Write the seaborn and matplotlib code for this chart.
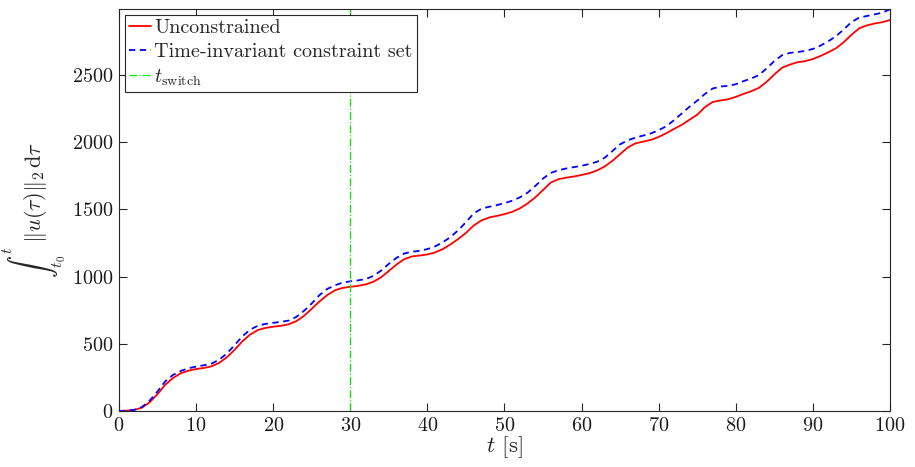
import matplotlib
matplotlib.use("Agg")
import matplotlib.pyplot as plt
import seaborn as sns
import numpy as np
import pandas as pd

# time axis [s]
t = np.arange(0, 101, 1)

# integral of control effort
unconstrained = [
    0, 2, 8, 25, 65, 125, 195, 245, 280, 300,
    312, 320, 332, 358, 400, 455, 518, 568, 602, 618,
    627, 634, 645, 668, 708, 760, 815, 862, 898, 916,
    924, 931, 942, 962, 995, 1042, 1090, 1130, 1150, 1157,
    1165, 1180, 1205, 1240, 1280, 1325, 1380, 1418, 1440, 1452,
    1465, 1482, 1508, 1545, 1590, 1645, 1700, 1725, 1737, 1745,
    1757, 1770, 1790, 1820, 1862, 1912, 1962, 1992, 2005, 2018,
    2040, 2068, 2100, 2130, 2168, 2205, 2262, 2300, 2311, 2320,
    2338, 2360, 2380, 2405, 2450, 2505, 2555, 2578, 2596, 2604,
    2620, 2643, 2670, 2700, 2745, 2800, 2848, 2870, 2884, 2894,
    2910,
]
time_invariant = [
    0, 2, 9, 30, 78, 145, 220, 268, 297, 318,
    330, 340, 352, 382, 428, 490, 555, 605, 634, 648,
    656, 663, 673, 700, 745, 800, 862, 908, 935, 955,
    965, 972, 982, 1005, 1045, 1095, 1140, 1172, 1185, 1192,
    1205, 1225, 1255, 1295, 1345, 1405, 1470, 1505, 1520, 1532,
    1547, 1565, 1590, 1625, 1675, 1730, 1772, 1792, 1805, 1815,
    1825, 1838, 1855, 1885, 1935, 1985, 2015, 2035, 2050, 2066,
    2090, 2120, 2165, 2215, 2265, 2310, 2360, 2400, 2415, 2420,
    2432, 2455, 2475, 2500, 2550, 2605, 2648, 2665, 2672, 2680,
    2695, 2720, 2752, 2790, 2840, 2895, 2928, 2940, 2952, 2965,
    2990,
]
t_switch = 30

df = pd.DataFrame({"t": t, "unc": unconstrained, "tic": time_invariant})

sns.set_style("ticks")
plt.rcParams["font.family"] = ["serif"]
plt.rcParams["font.serif"] = ["cmr10", "DejaVu Serif"]
plt.rcParams["mathtext.fontset"] = "cm"
plt.rcParams["axes.formatter.use_mathtext"] = True
plt.rcParams["axes.unicode_minus"] = False

fig = plt.figure(figsize=(9.15, 4.67), dpi=100)
ax = fig.add_axes([0.130, 0.120, 0.8427, 0.8607])

sns.lineplot(data=df, x="t", y="unc", ax=ax, color="#ff0000", lw=1.3,
             label="Unconstrained")
sns.lineplot(data=df, x="t", y="tic", ax=ax, color="#0000ff", lw=1.3,
             linestyle=(0, (3.5, 2.5)), label="Time-invariant constraint set")
ax.axvline(t_switch, color="#00ee00", lw=0.9, linestyle="-.",
           label=r"$t_{\mathrm{switch}}$")

ax.set_xlim(0, 100)
ax.set_ylim(0, 2992)
ax.set_xticks(np.arange(0, 101, 10))
ax.set_yticks(np.arange(0, 2501, 500))

edge = "#262626"
for s in ax.spines.values():
    s.set_color(edge)
    s.set_linewidth(0.8)
ax.tick_params(direction="in", length=6, width=0.8, colors=edge,
               labelcolor="#1a1a1a", labelsize=14.5, top=True, right=True,
               pad=4)

ax.set_xlabel(r"$t$ [s]", fontsize=16.5, labelpad=0)
ax.set_ylabel(r"$\int_{t_0}^{t}\;\|u(\tau)\|_2\,\mathrm{d}\tau$", fontsize=16)
ax.yaxis.set_label_coords(-0.066, 0.5)

leg = ax.legend(loc="upper left", fontsize=14.5, handlelength=1.1,
                handletextpad=0.15, borderaxespad=0.3, borderpad=0.2,
                labelspacing=0.3, fancybox=False, framealpha=1)
leg.get_frame().set_edgecolor(edge)
leg.get_frame().set_linewidth(0.8)

fig.savefig("out.png", dpi=100)
